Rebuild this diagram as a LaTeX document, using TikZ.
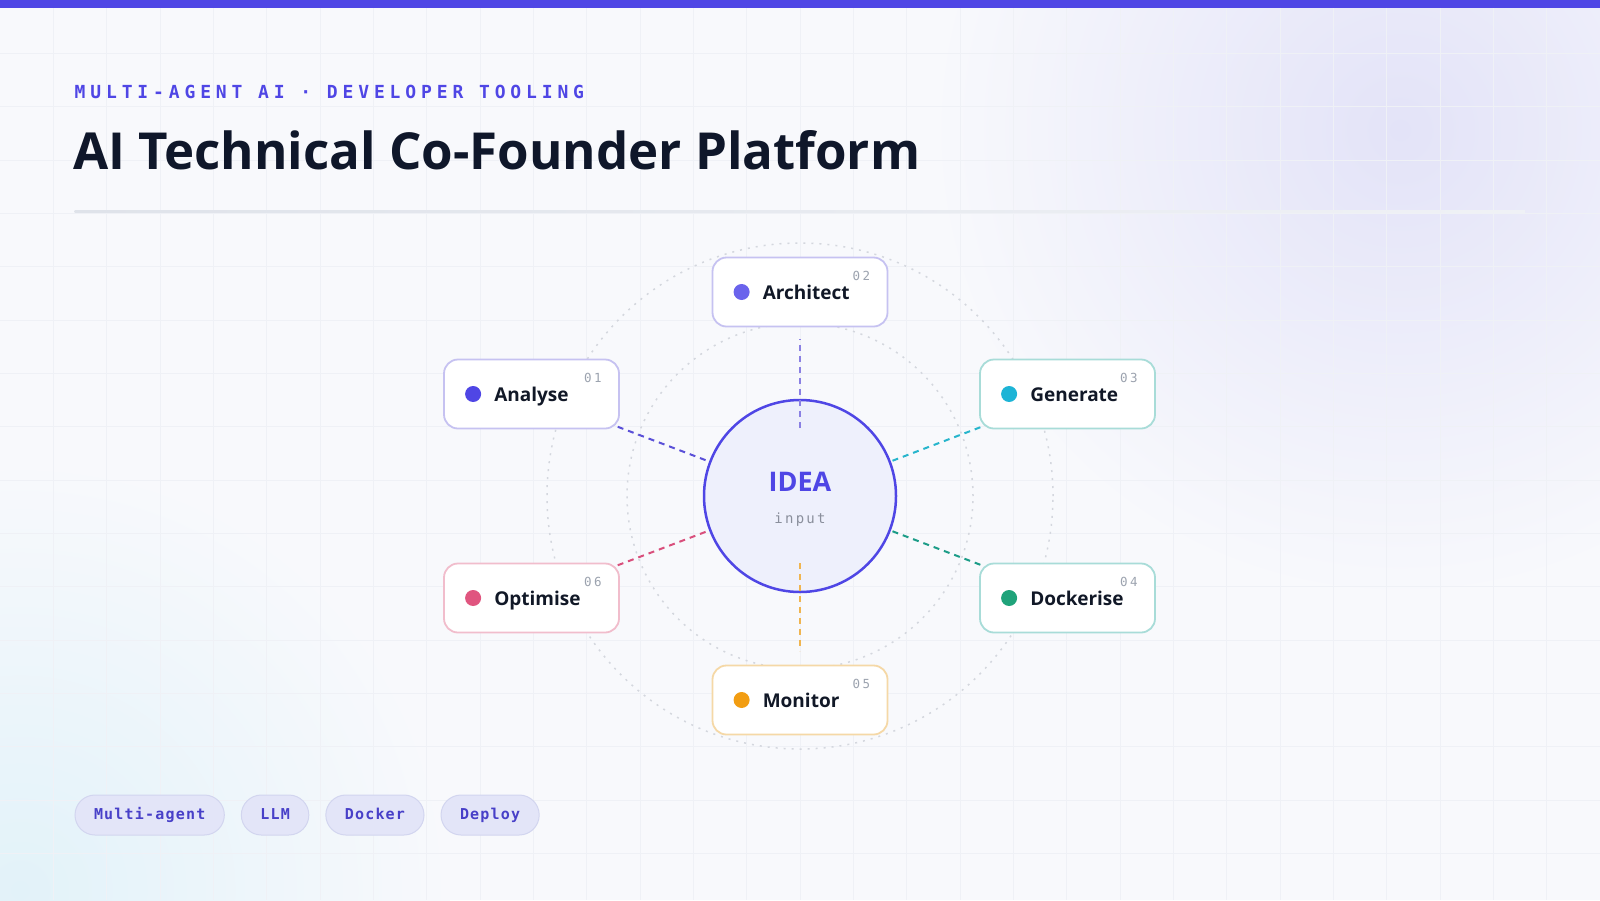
\documentclass[tikz,border=0pt]{standalone}
\usepackage{fontspec}
\setmainfont{Open Sans}
\newfontfamily\monof{DejaVu Sans Mono}
\newfontfamily\monosub[LetterSpace=27]{DejaVu Sans Mono}
\newfontfamily\monotag[LetterSpace=8]{DejaVu Sans Mono}
\newfontfamily\mononum[LetterSpace=20]{DejaVu Sans Mono}
\newfontfamily\monoin[LetterSpace=16]{DejaVu Sans Mono}
\usetikzlibrary{calc}
\definecolor{bg}{HTML}{F8F9FC}
\definecolor{glowA}{HTML}{E3E3F8}
\definecolor{glowB}{HTML}{E2F2F9}
\definecolor{gridc}{HTML}{EFF1F6}
\definecolor{indigo}{HTML}{4F46E5}
\definecolor{titlec}{HTML}{0F172A}
\definecolor{sepc}{HTML}{DFE3EA}
\definecolor{guidec}{HTML}{D4D7DE}
\definecolor{ideafill}{HTML}{EEF0FC}
\definecolor{labc}{HTML}{111827}
\definecolor{numc}{HTML}{9CA3AF}
\definecolor{inputc}{HTML}{8A8F9C}
\definecolor{bAn}{HTML}{C6C2F1}
\definecolor{bGe}{HTML}{A8DCD8}
\definecolor{bOp}{HTML}{F1BDCC}
\definecolor{bMo}{HTML}{F5D8A6}
\definecolor{dAn}{HTML}{4F46E5}
\definecolor{dAr}{HTML}{6A63EC}
\definecolor{dGe}{HTML}{1DB4D6}
\definecolor{dDo}{HTML}{1FA37A}
\definecolor{dOp}{HTML}{E0557F}
\definecolor{dMo}{HTML}{F29D12}
\definecolor{lAn}{HTML}{5A50D8}
\definecolor{lAr}{HTML}{8A80E3}
\definecolor{lGe}{HTML}{27B5CC}
\definecolor{lDo}{HTML}{1B9C87}
\definecolor{lOp}{HTML}{D94F7C}
\definecolor{lMo}{HTML}{F0B550}
\definecolor{tagf}{HTML}{E3E5F8}
\definecolor{tagb}{HTML}{D2D5EF}
\definecolor{tagt}{HTML}{4840C8}
\tikzset{
  agent/.style={draw, rounded corners=14pt, fill=white, line width=1.8pt,
    minimum width=175pt, minimum height=69pt, inner sep=0pt},
  agentdot/.style={circle, minimum size=16pt, inner sep=0pt},
  lbl/.style={anchor=base west, inner sep=0pt, text=labc,
    font=\bfseries\fontsize{19}{23}\selectfont},
  num/.style={anchor=base east, inner sep=0pt, text=numc,
    font=\mononum\fontsize{12.5}{14}\selectfont},
  conn/.style={line width=2pt, dash pattern=on 6pt off 5pt},
  guide/.style={draw=guidec, line width=1.5pt, dash pattern=on 2pt off 6pt},
  tag/.style={draw=tagb, fill=tagf, line width=1pt, rounded corners=20pt,
    minimum height=40pt, inner xsep=19pt, inner ysep=0pt, text=tagt,
    text height=11pt, text depth=3pt, anchor=west,
    font=\monotag\bfseries\fontsize{15}{18}\selectfont}
}
\begin{document}
\begin{tikzpicture}[x=1pt,y=-1pt]
\useasboundingbox (0,0) rectangle (1600,900);
\begin{scope}
  \clip (0,0) rectangle (1600,900);
  \fill[bg] (0,0) rectangle (1600,900);
  \shade[inner color=glowA, outer color=bg] (1400,130) circle (470pt);
  \shade[inner color=glowB, outer color=bg] (20,890) circle (430pt);
  \foreach \i in {1,...,30} \draw[gridc, line width=1pt] (\i*53.333,0) -- (\i*53.333,900);
  \foreach \j in {1,...,16} \draw[gridc, line width=1pt] (0,\j*53.333) -- (1600,\j*53.333);
\end{scope}
\fill[indigo] (0,0) rectangle (1600,8);

% header
\node[anchor=base west, inner sep=0pt, text=indigo,
  font=\monosub\bfseries\fontsize{18}{20}\selectfont] (sub) at (74.5,98.5)
  {MULTI-AGENT AI · DEVELOPER TOOLING};
\node[anchor=base west, inner sep=0pt, text=titlec,
  font=\bfseries\fontsize{51}{60}\selectfont] (title) at (73,169.5)
  {AI Technical Co-Founder Platform};
\shade[left color=sepc, right color=sepc!35!bg] (74.5,210.5) rectangle (1525,212);

% guide circles
\draw[guide] (800,496) circle (253pt);
\draw[guide] (800,496) circle (173pt);

% centre
\node[circle, minimum size=192pt, draw=indigo, line width=2.5pt, fill=ideafill, inner sep=0pt] (C) at (800,496) {};
\node[inner sep=0pt, text=indigo, font=\bfseries\fontsize{27}{30}\selectfont] (ideat) at (800,482) {IDEA};
\node[inner sep=0pt, text=inputc, font=\monoin\fontsize{14}{16}\selectfont] (inputt) at (800,520) {input};

% agents
\node[agent, draw=bAn] (An) at (531.5,394) {};
\node[agent, draw=bAn] (Ar) at (800,292) {};
\node[agent, draw=bGe] (Ge) at (1067.5,394) {};
\node[agent, draw=bGe] (Do) at (1067.5,598) {};
\node[agent, draw=bMo] (Mo) at (800,700) {};
\node[agent, draw=bOp] (Op) at (531.5,598) {};

\foreach \n/\d/\t/\k in {An/dAn/Analyse/01, Ar/dAr/Architect/02, Ge/dGe/Generate/03,
                        Do/dDo/Dockerise/04, Mo/dMo/Monitor/05, Op/dOp/Optimise/06}{
  \node[agentdot, fill=\d] (\n dot) at ([xshift=30pt]\n.west) {};
  \node[lbl] (\n lab) at ([xshift=51pt,yshift=-7pt]\n.west) {\t};
  \node[num] (\n num) at ([xshift=-18pt,yshift=-24pt]\n.north east) {\k};
}

% connectors
\draw[conn, lAn] ($(C)!101pt!(An)$) -- ($(C)!196pt!(An)$);
\draw[conn, lAr] ($(C)!68pt!(Ar)$) -- ($(C)!157pt!(Ar)$);
\draw[conn, lGe] ($(C)!99pt!(Ge)$) -- ($(C)!194pt!(Ge)$);
\draw[conn, lDo] ($(C)!99pt!(Do)$) -- ($(C)!194pt!(Do)$);
\draw[conn, lMo] ($(C)!67pt!(Mo)$) -- ($(C)!155pt!(Mo)$);
\draw[conn, lOp] ($(C)!101pt!(Op)$) -- ($(C)!196pt!(Op)$);

% tags
\node[tag] (t1) at (74.5,815) {Multi-agent};
\node[tag] (t2) at ([xshift=16pt]t1.east) {LLM};
\node[tag] (t3) at ([xshift=16pt]t2.east) {Docker};
\node[tag] (t4) at ([xshift=16pt]t3.east) {Deploy};
\end{tikzpicture}
\end{document}
